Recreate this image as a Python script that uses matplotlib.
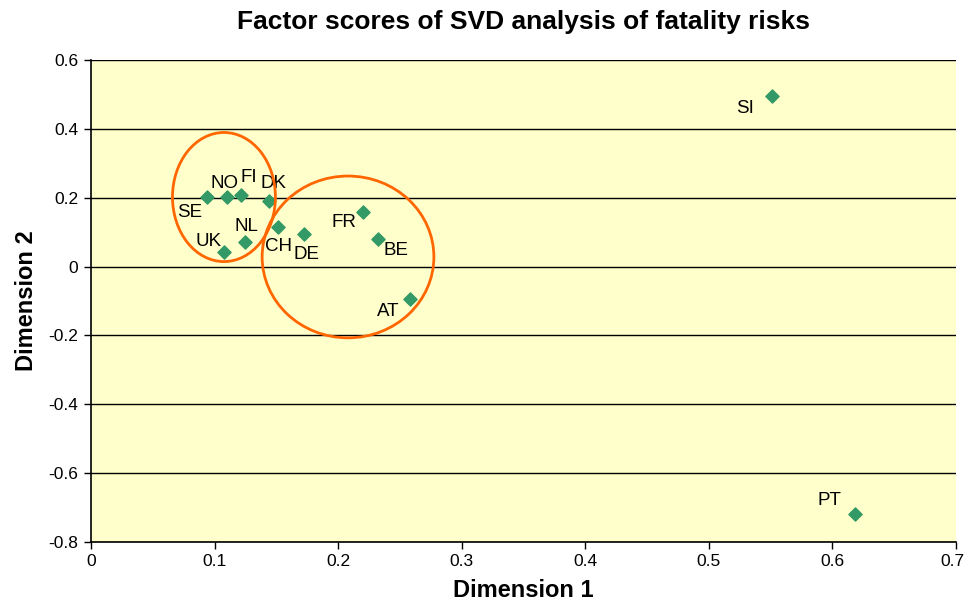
import matplotlib.pyplot as plt
import matplotlib.transforms as mtransforms
from matplotlib.patches import Ellipse

plt.rcParams['font.family'] = ['Liberation Sans', 'DejaVu Sans']

countries = ["SE", "NO", "FI", "DK", "UK", "NL", "CH", "DE", "FR", "BE", "AT", "SI", "PT"]
dim1 = [0.094, 0.110, 0.121, 0.144, 0.108, 0.125, 0.151, 0.172, 0.220, 0.232, 0.258, 0.551, 0.618]
dim2 = [0.202, 0.202, 0.208, 0.190, 0.042, 0.071, 0.115, 0.094, 0.158, 0.080, -0.094, 0.495, -0.719]

# label offsets in pixels, relative to each point
offsets = {
    "SE": (-17, -15), "NO": (-2, 14), "FI": (8, 17), "DK": (5, 18),
    "UK": (-16, 11), "NL": (1, 16), "CH": (1, -20), "DE": (3, -20),
    "FR": (-19, -10), "BE": (18, -11), "AT": (-22, -13),
    "SI": (-27, -12), "PT": (-25, 14),
}

fig = plt.figure(figsize=(9.66, 6.02), dpi=100)
ax = fig.add_axes([0.0942, 0.0997, 0.8954, 0.8006])
ax.set_facecolor("#FFFFCC")

ax.set_xlim(0, 0.7)
ax.set_ylim(-0.8, 0.6)
ax.set_xticks([0, 0.1, 0.2, 0.3, 0.4, 0.5, 0.6, 0.7])
ax.set_xticklabels(["0", "0.1", "0.2", "0.3", "0.4", "0.5", "0.6", "0.7"])
ax.set_yticks([-0.8, -0.6, -0.4, -0.2, 0, 0.2, 0.4, 0.6])
ax.set_yticklabels(["-0.8", "-0.6", "-0.4", "-0.2", "0", "0.2", "0.4", "0.6"])
ax.yaxis.grid(True, color="black", linewidth=1)
ax.set_axisbelow(True)
for s in ["top", "right"]:
    ax.spines[s].set_visible(False)
for s in ["left", "bottom"]:
    ax.spines[s].set_linewidth(1.2)
ax.tick_params(labelsize=12.5, length=5, width=1, pad=4)

# keep the last x tick label inside the figure
last = ax.get_xticklabels()[-1]
last.set_transform(last.get_transform() +
                   mtransforms.ScaledTranslation(-4 / 100, 0, fig.dpi_scale_trans))

ax.scatter(dim1, dim2, marker="D", s=45, color="#339966", zorder=3)
for c, x, y in zip(countries, dim1, dim2):
    ax.annotate(c, (x, y), xytext=offsets[c], textcoords="offset pixels",
                ha="center", va="center", fontsize=13.5)

ax.add_patch(Ellipse((0.1076, 0.202), 0.0833, 0.375, fill=False,
                     edgecolor="#FF6600", linewidth=2, zorder=4))
ax.add_patch(Ellipse((0.208, 0.028), 0.139, 0.470, fill=False,
                     edgecolor="#FF6600", linewidth=2, zorder=4))

ax.set_xlabel("Dimension 1", fontsize=17, fontweight="bold", labelpad=7)
ax.set_ylabel("Dimension 2", fontsize=17, fontweight="bold", labelpad=8)
fig.text(0.5415, 0.963, "Factor scores of SVD analysis of fatality risks",
         fontsize=19, fontweight="bold", ha="center", va="center")

plt.savefig("out.png", dpi=100)
